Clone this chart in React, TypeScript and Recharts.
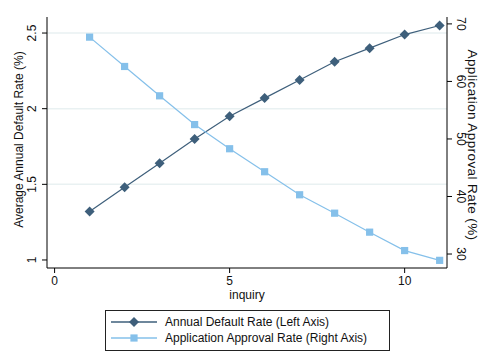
import React from "react"
import { LineChart, Line, XAxis, YAxis, ReferenceLine } from "recharts"

const inquiry = [1, 2, 3, 4, 5, 6, 7, 8, 9, 10, 11]
const defaultRate = [1.32, 1.48, 1.64, 1.8, 1.95, 2.07, 2.19, 2.31, 2.4, 2.49, 2.55]
const approvalRate = [67.7, 62.6, 57.5, 52.5, 48.3, 44.3, 40.3, 37.1, 33.8, 30.6, 28.9]

const xTicks = [0, 5, 10]
const leftTicks = [1, 1.5, 2, 2.5]
const rightTicks = [30, 40, 50, 60, 70]
const gridValues = [1.5, 2, 2.5]

const seriesNames = ["Annual Default Rate (Left Axis)", "Application Approval Rate (Right Axis)"]
const leftTitle = "Average Annual Default Rate (%)"
const rightTitle = "Application Approval Rate (%)"
const DARK = "#3e5f7b"
const LIGHT = "#85c0ea"
const FONT = "'Liberation Sans', Arial, sans-serif"

const data = inquiry.map((x, i) => ({ inquiry: x, dflt: defaultRate[i], approval: approvalRate[i] }))

const Diamond = ({ cx, cy, size = 5 }: any) => (
  <polygon
    points={`${cx},${cy - size} ${cx + size},${cy} ${cx},${cy + size} ${cx - size},${cy}`}
    fill={DARK}
  />
)

const Square = ({ cx, cy, size = 3.6 }: any) => (
  <rect x={cx - size} y={cy - size} width={size * 2} height={size * 2} fill={LIGHT} />
)

const XTick = ({ x, y, payload }: any) => (
  <text x={x} y={y + 10} textAnchor="middle" fontSize={12} fill="#111" fontFamily={FONT}>
    {payload.value}
  </text>
)

const LeftTick = ({ x, y, payload }: any) => (
  <text x={x - 4} y={y} transform={`rotate(-90 ${x - 4} ${y})`} textAnchor="middle" fontSize={12} fill="#111" fontFamily={FONT}>
    {payload.value}
  </text>
)

const RightTick = ({ x, y, payload }: any) => (
  <text x={x + 3} y={y} transform={`rotate(90 ${x + 3} ${y})`} textAnchor="middle" fontSize={12} fill="#111" fontFamily={FONT}>
    {payload.value}
  </text>
)

// rotated axis titles, placed from the axis viewBox
const LeftTitle = ({ viewBox }: any) => {
  const x = viewBox.x + 15.5
  const y = viewBox.y + viewBox.height / 2 - 3
  return (
    <text x={x} y={y} transform={`rotate(-90 ${x} ${y})`} textAnchor="middle" fontSize={12} fill="#111" fontFamily={FONT}>
      {leftTitle}
    </text>
  )
}

const RightTitle = ({ viewBox }: any) => {
  const x = viewBox.x + 20.5
  const y = viewBox.y + viewBox.height / 2 + 2.5
  return (
    <text
      x={x}
      y={y}
      transform={`rotate(90 ${x} ${y})`}
      textAnchor="middle"
      fontSize={13.5}
      letterSpacing={0.4}
      fill="#111"
      fontFamily={FONT}
    >
      {rightTitle}
    </text>
  )
}

const Legend = () => (
  <svg width={478} height={351} style={{ position: "absolute", left: 0, top: 0, pointerEvents: "none" }}>
    <rect x={105.5} y={310.5} width={284} height={40} fill="#fff" stroke="#222" strokeWidth={1} />
    {seriesNames.map((name, i) => {
      const cy = 322 + i * 16
      return (
        <g key={name}>
          <line x1={111} x2={157} y1={cy} y2={cy} stroke={i === 0 ? DARK : LIGHT} strokeWidth={1.3} />
          {i === 0 ? <Diamond cx={134} cy={cy} /> : <Square cx={134} cy={cy} />}
          <text x={165} y={cy + 4.3} fontSize={12} fill="#111" fontFamily={FONT}>
            {name}
          </text>
        </g>
      )
    })}
  </svg>
)

export default function App() {
  return (
    <div style={{ position: "absolute", left: 0, top: 0, width: 478, height: 351, background: "#fff" }}>
      <LineChart width={478} height={351} data={data} margin={{ top: 17, right: 0, left: 7, bottom: 43 }}>
        <XAxis
          dataKey="inquiry"
          type="number"
          domain={[-0.217, 11.21]}
          allowDataOverflow
          ticks={xTicks}
          tick={<XTick />}
          tickSize={5}
          height={40}
          stroke="#000"
          label={{ value: "inquiry", position: "insideBottom", offset: 9, fontSize: 12, fill: "#111", fontFamily: FONT }}
        />
        <YAxis
          yAxisId="left"
          domain={[0.947, 2.606]}
          allowDataOverflow
          ticks={leftTicks}
          tick={<LeftTick />}
          tickSize={5}
          width={40}
          stroke="#000"
          label={{ content: <LeftTitle /> }}
        />
        <YAxis
          yAxisId="right"
          orientation="right"
          domain={[27.57, 71.2]}
          allowDataOverflow
          ticks={rightTicks}
          tick={<RightTick />}
          tickSize={5}
          width={31}
          stroke="#000"
          label={{ content: <RightTitle /> }}
        />
        {gridValues.map((v) => (
          <ReferenceLine key={v} yAxisId="left" y={v} stroke="#e9f1f2" strokeWidth={1.5} />
        ))}
        <Line
          yAxisId="left"
          dataKey="dflt"
          stroke={DARK}
          strokeWidth={1.2}
          dot={<Diamond />}
          activeDot={false}
          isAnimationActive={false}
        />
        <Line
          yAxisId="right"
          dataKey="approval"
          stroke={LIGHT}
          strokeWidth={1.2}
          dot={<Square />}
          activeDot={false}
          isAnimationActive={false}
        />
      </LineChart>
      <Legend />
    </div>
  )
}
